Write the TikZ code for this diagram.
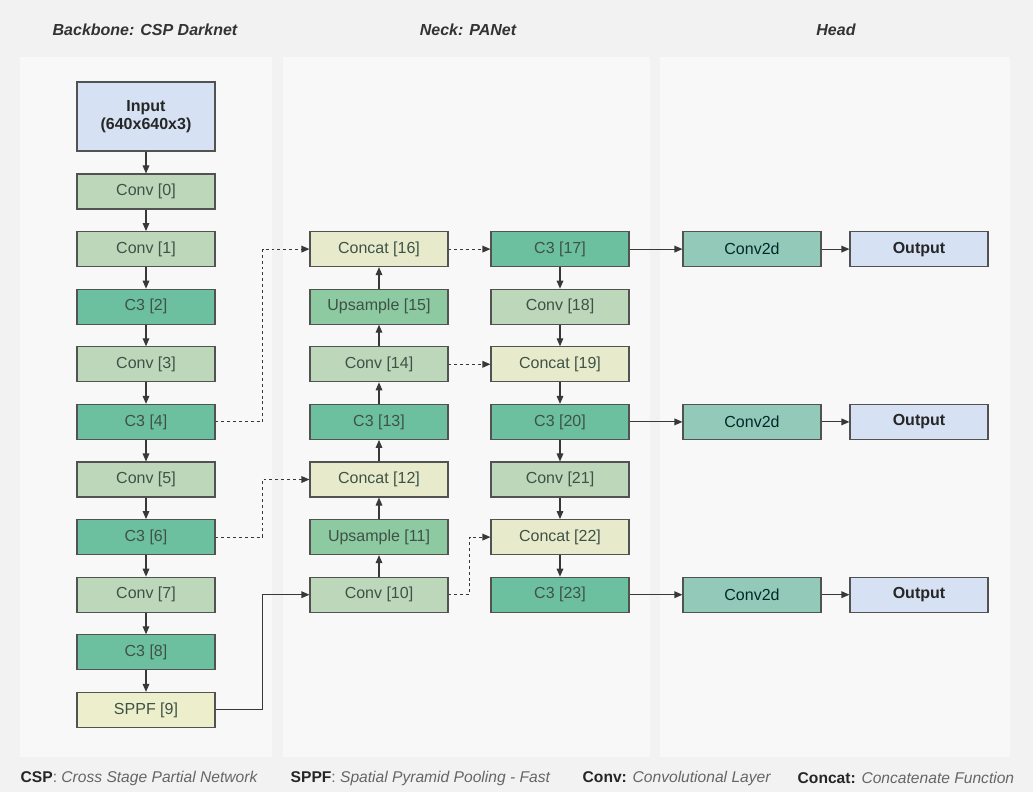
\documentclass[tikz,border=0pt]{standalone}
\usepackage{fontspec}
\setmainfont{Liberation Sans}
\usetikzlibrary{arrows.meta}
\definecolor{bgcol}{HTML}{F2F2F2}
\definecolor{panelcol}{HTML}{F8F8F8}
\definecolor{colConv}{HTML}{BCD7B9}
\definecolor{colCthree}{HTML}{6CC0A0}
\definecolor{colUp}{HTML}{8DC9A1}
\definecolor{colCat}{HTML}{E7EBCB}
\definecolor{colSppf}{HTML}{EDEFCC}
\definecolor{colHead}{HTML}{93C9B9}
\definecolor{colIO}{HTML}{D6E2F4}
\definecolor{tcol}{HTML}{3E5247}
\colorlet{ecol}{black!78}
\tikzstyle{layer}=[rectangle, draw=black!68, line width=0.8pt, minimum width=103.5pt, minimum height=26.25pt, inner sep=0pt, font=\fontsize{12}{14}\selectfont, text=tcol]
\tikzstyle{conv}=[layer, fill=colConv]
\tikzstyle{cthree}=[layer, fill=colCthree]
\tikzstyle{upsamp}=[layer, fill=colUp]
\tikzstyle{concat}=[layer, fill=colCat]
\tikzstyle{sppf}=[layer, fill=colSppf]
\tikzstyle{headconv}=[layer, fill=colHead, text=black!60!teal!80!black]
\tikzstyle{io}=[layer, fill=colIO, text=black!85, font=\fontsize{12}{14}\selectfont\bfseries, align=center]
\tikzstyle{edge}=[line width=0.8pt, ecol, -{Triangle[length=6pt,width=5pt]}]
\tikzstyle{dedge}=[edge, dash pattern=on 2.2pt off 2.2pt]
\tikzstyle{title}=[font=\fontsize{12}{14}\selectfont\bfseries\itshape, text=black!80]
\tikzstyle{note}=[anchor=west, font=\fontsize{11.7}{14}\selectfont, text=black!60]

\begin{document}
\begin{tikzpicture}[x=0.75pt,y=-0.75pt]
			% background and panels
			\fill[bgcol] (0,0) rectangle (1033,792);
			\useasboundingbox (0,0) rectangle (1033,792);
			\fill[panelcol] (20,57) rectangle (272,757);
			\fill[panelcol] (283,57) rectangle (650,757);
			\fill[panelcol] (660,57) rectangle (1010,757);
			\node[title] (tb) at (145,30) {Backbone: CSP Darknet};
			\node[title] (tn) at (468,30) {Neck: PANet};
			\node[title] (th) at (836,30) {Head};
			% backbone
			\node[io, minimum height=51.75pt] (in) at (146,116.5) {Input\\(640x640x3)};
			\node[conv] (0) at (146,191.5) {Conv [0]};
			\node[conv] (1) at (146,249.1) {Conv [1]};
			\node[cthree] (2) at (146,306.7) {C3 [2]};
			\node[conv] (3) at (146,364.3) {Conv [3]};
			\node[cthree] (4) at (146,421.9) {C3 [4]};
			\node[conv] (5) at (146,479.5) {Conv [5]};
			\node[cthree] (6) at (146,537.1) {C3 [6]};
			\node[conv] (7) at (146,594.7) {Conv [7]};
			\node[cthree] (8) at (146,652.3) {C3 [8]};
			\node[sppf] (9) at (146,709.9) {SPPF [9]};
			% neck
			\node[conv] (10) at (379,594.7) {Conv [10]};
			\node[upsamp] (11) at (379,537.1) {Upsample [11]};
			\node[concat] (12) at (379,479.5) {Concat [12]};
			\node[cthree] (13) at (379,421.9) {C3 [13]};
			\node[conv] (14) at (379,364.3) {Conv [14]};
			\node[upsamp] (15) at (379,306.7) {Upsample [15]};
			\node[concat] (16) at (379,249.1) {Concat [16]};
			\node[cthree] (17) at (560,249.1) {C3 [17]};
			\node[conv] (18) at (560,306.7) {Conv [18]};
			\node[concat] (19) at (560,364.3) {Concat [19]};
			\node[cthree] (20) at (560,421.9) {C3 [20]};
			\node[conv] (21) at (560,479.5) {Conv [21]};
			\node[concat] (22) at (560,537.1) {Concat [22]};
			\node[cthree] (23) at (560,594.7) {C3 [23]};
			% head
			\node[headconv] (h17) at (752,249.1) {Conv2d};
			\node[headconv] (h20) at (752,421.9) {Conv2d};
			\node[headconv] (h23) at (752,594.7) {Conv2d};
			\node[io] (o17) at (919,249.1) {Output};
			\node[io] (o20) at (919,421.9) {Output};
			\node[io] (o23) at (919,594.7) {Output};
			% connectors
			\draw[edge] (in)edge(0) (0)edge(1) (1)edge(2) (2)edge(3) (3)edge(4) (4)edge(5) (5)edge(6) (6)edge(7) (7)edge(8) (8)edge(9)  ;
			\draw[edge] (10)edge(11) (11)edge(12) (12)edge(13) (13)edge(14) (14)edge(15) (15)edge(16)  ;
			\draw[edge] (17)edge(18) (18)edge(19) (19)edge(20) (20)edge(21) (21)edge(22) (22)edge(23)  ;
			\draw[edge] (17)edge(h17) (h17)edge(o17) (20)edge(h20) (h20)edge(o20) (23)edge(h23) (h23)edge(o23)  ;
			\draw[dedge] (16)edge(17) (14)edge(19)  ;
			\draw[dedge] (4.east) -- ++(47,0) |- (16.west);
			\draw[dedge] (6.east) -- ++(47,0) |- (12.west);
			\draw[edge] (9.east) -- ++(47,0) |- (10.west);
			\draw[dedge] (10.east) -- ++(21,0) |- (22.west);
			% legend
			\node[note] (n1) at (16,778) {\textbf{\color{black!85}CSP}: \textit{Cross Stage Partial Network}};
			\node[note] (n2) at (286,778) {\textbf{\color{black!85}SPPF}: \textit{Spatial Pyramid Pooling - Fast}};
			\node[note] (n3) at (578,778) {\textbf{\color{black!85}Conv:} \textit{Convolutional Layer}};
			\node[note] (n4) at (793,778) {\textbf{\color{black!85}Concat:} \textit{Concatenate Function}};
		\end{tikzpicture}
\end{document}
